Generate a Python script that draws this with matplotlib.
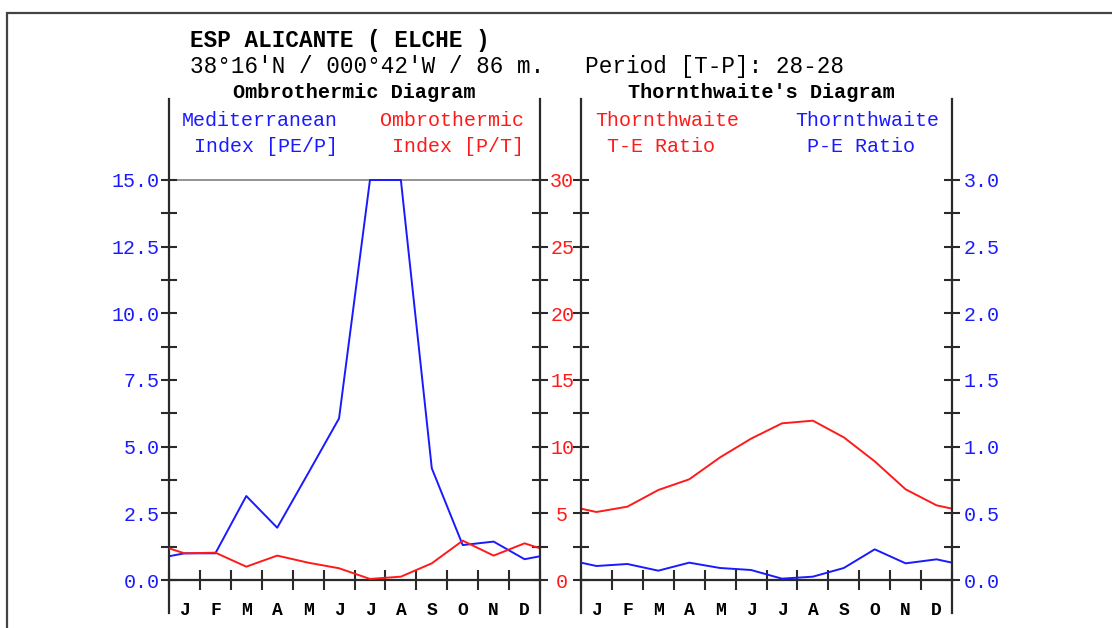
import numpy as np
import matplotlib.pyplot as plt
from matplotlib.ticker import FormatStrFormatter, FixedLocator, FixedFormatter, NullFormatter
from matplotlib.patches import Rectangle

# monthly values
months = ['J', 'F', 'M', 'A', 'M', 'J', 'J', 'A', 'S', 'O', 'N', 'D']
med_index = [1.0, 1.0, 3.15, 1.96, 4.0, 6.06, 15.0, 15.0, 4.19, 1.31, 1.44, 0.78]    # PE/P
ombro_index = [2.0, 2.05, 1.0, 1.83, 1.3, 0.88, 0.08, 0.25, 1.25, 2.95, 1.83, 2.75]  # P/T
te_ratio = [5.1, 5.5, 6.75, 7.55, 9.2, 10.6, 11.75, 11.95, 10.7, 8.9, 6.8, 5.6]
pe_ratio = [0.105, 0.12, 0.07, 0.13, 0.09, 0.075, 0.01, 0.025, 0.09, 0.23, 0.125, 0.155]

station = "ESP ALICANTE ( ELCHE )"
location = "38°16'N / 000°42'W / 86 m.   Period [T-P]: 28-28"
panel_titles = ["Ombrothermic Diagram", "Thornthwaite's Diagram"]
legend_left = [("Mediterranean", " Index [PE/P]"), ("Ombrothermic", " Index [P/T]")]
legend_right = [("Thornthwaite", " T-E Ratio"), ("Thornthwaite", " P-E Ratio")]

W, H = 1112, 628
BLUE = '#1a1aff'
RED = '#ff1a1a'
INK = '#2a2a2a'
MONO = ['Liberation Mono', 'DejaVu Sans Mono']


def wrap(vals):
    # repeat Dec before Jan and Jan after Dec so the curve runs to the panel edges
    return [vals[-1]] + list(vals) + [vals[0]]


x_wrap = np.arange(len(months) + 2) - 0.5


def box(x0, x1, ytop, ybot):
    return [x0 / W, 1 - ybot / H, (x1 - x0) / W, (ybot - ytop) / H]


def lims(top):
    # zero line sits 33 px above the bottom, the top value 400 px above zero
    return (-33 / 400 * top, 481 / 400 * top)


def set_scale(ax, top, step):
    ax.set_ylim(*lims(top))
    ax.yaxis.set_major_locator(FixedLocator(np.linspace(0, top, 7)))
    ax.yaxis.set_minor_locator(FixedLocator(np.linspace(0, top, 13)))
    ax.tick_params(axis='y', which='both', direction='inout', length=12, width=1.5, color=INK)


fig = plt.figure(figsize=(W / 100, H / 100), dpi=100)

# outer frame
fig.add_artist(Rectangle((7 / W, -0.2), 1.2, 1.2 - 13 / H, transform=fig.transFigure,
                         fill=False, lw=1.6, ec='#444444'))

fig.text(190 / W, 1 - 40 / H, station, family=MONO, weight='bold', fontsize=16.3, va='center')
fig.text(190 / W, 1 - 66 / H, location, family=MONO, fontsize=16.3, va='center')


def make_panel(rect, left_top, right_top):
    ax = fig.add_axes(rect)
    ax.set_xlim(0, 12)
    set_scale(ax, left_top, left_top / 6)
    for s in ['top', 'right']:
        ax.spines[s].set_visible(False)
    for s in ['left', 'bottom']:
        ax.spines[s].set_linewidth(1.6)
        ax.spines[s].set_color(INK)
    ax.spines['bottom'].set_position(('data', 0))
    ax.xaxis.set_major_locator(FixedLocator(np.arange(13)))
    ax.xaxis.set_major_formatter(NullFormatter())
    ax.xaxis.set_minor_locator(FixedLocator(np.arange(12) + 0.5))
    ax.xaxis.set_minor_formatter(FixedFormatter(months))
    ax.tick_params(axis='x', which='major', direction='inout', length=14, width=1.5, color=INK)
    ax.tick_params(axis='x', which='minor', length=0, pad=16)
    for t in ax.get_xticklabels(minor=True):
        t.set_family(MONO)
        t.set_weight('bold')
        t.set_fontsize(13)

    tw = ax.twinx()
    set_scale(tw, right_top, right_top / 6)
    for s in ['top', 'bottom', 'left']:
        tw.spines[s].set_visible(False)
    tw.spines['right'].set_linewidth(1.6)
    tw.spines['right'].set_color(INK)
    return ax, tw


# ---- Ombrothermic diagram
axL, twL = make_panel(box(169, 540, 99, 613), 15, 30)
axL.axhline(15, color='#8a8a8a', lw=1.3, zorder=1)
axL.plot(x_wrap, wrap(med_index), color=BLUE, lw=1.4)
twL.plot(x_wrap, wrap(ombro_index), color=RED, lw=1.4)
axL.yaxis.set_major_formatter(FormatStrFormatter('%.1f'))
axL.tick_params(axis='y', labelcolor=BLUE, labelsize=14.4, pad=0.5)
twL.yaxis.set_major_formatter(FormatStrFormatter('%d'))
twL.tick_params(axis='y', labelcolor=RED, labelsize=14.4, pad=10)
for t in axL.get_yticklabels() + twL.get_yticklabels():
    t.set_family(MONO)
for t in twL.get_yticklabels():
    t.set_horizontalalignment('center')

# ---- Thornthwaite diagram
axR, twR = make_panel(box(581, 952, 99, 613), 30, 3)
axR.plot(x_wrap, wrap(te_ratio), color=RED, lw=1.4)
twR.plot(x_wrap, wrap(pe_ratio), color=BLUE, lw=1.4)
axR.tick_params(axis='y', labelleft=False)
twR.yaxis.set_major_formatter(FormatStrFormatter('%.1f'))
twR.tick_params(axis='y', labelcolor=BLUE, labelsize=14.4, pad=2.5)
for t in twR.get_yticklabels():
    t.set_family(MONO)

# ---- headings and legends
fig.text(354 / W, 1 - 93 / H, panel_titles[0], family=MONO, weight='bold', fontsize=14.5,
         ha='center', va='center')
fig.text(761 / W, 1 - 93 / H, panel_titles[1], family=MONO, weight='bold', fontsize=14.5,
         ha='center', va='center')

legend_pos = [(182, BLUE, legend_left[0]), (380, RED, legend_left[1]),
              (595, RED, legend_right[0]), (795, BLUE, legend_right[1])]
for x0, col, (l1, l2) in legend_pos:
    fig.text(x0 / W, 1 - 120 / H, l1, family=MONO, fontsize=14.4, color=col, va='center')
    fig.text(x0 / W, 1 - 146 / H, l2, family=MONO, fontsize=14.4, color=col, va='center')

fig.savefig('out.png', dpi=100)
